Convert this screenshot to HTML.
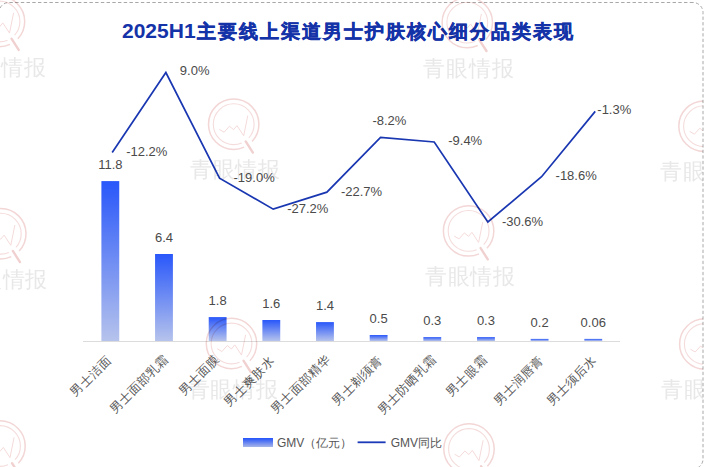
<!DOCTYPE html>
<html><head><meta charset="utf-8">
<style>
html,body{margin:0;padding:0;background:#fff;}
body{width:707px;height:467px;overflow:hidden;font-family:"Liberation Sans",sans-serif;}
svg{display:block;}
text{font-family:"Liberation Sans",sans-serif;}
</style></head><body>
<svg width="707" height="467" viewBox="0 0 707 467">
<defs>
<linearGradient id="bg" x1="0" y1="0" x2="0" y2="1">
<stop offset="0" stop-color="#2957fa"/>
<stop offset="1" stop-color="#b6c3ec"/>
</linearGradient>
<linearGradient id="lg" x1="0" y1="0" x2="0" y2="1">
<stop offset="0" stop-color="#2252fa"/>
<stop offset="1" stop-color="#a8b6e8"/>
</linearGradient>
<clipPath id="clipbox"><rect x="-5" y="-5" width="708" height="480"/></clipPath>
<g id="wm">
<circle cx="0" cy="0" r="25.2" fill="none" stroke="#f3d6d6" stroke-width="1.5" stroke-dasharray="18.9 9.7 200"/>
<circle cx="0" cy="0" r="20.4" fill="none" stroke="#f5dcdc" stroke-width="1.1" stroke-dasharray="14.95 8.65 200"/>
<polyline points="-14.4,5.2 -9.6,8 -4.2,2 -0.1,5.5 3.3,1.4 10,11.6 14.1,-8.7" fill="none" stroke="#f5dada" stroke-width="1"/>
<line x1="12" y1="17.2" x2="19.2" y2="28.4" stroke="#f1d0d0" stroke-width="2.4" stroke-linecap="round"/>
<text x="-44" y="53" font-size="22" letter-spacing="0.9" fill="#e8e8e8">青眼情报</text>
</g>
</defs>

<path d="M -1 480 L -1 12.5 A 10 10 0 0 1 9 2.5 L 693.6 2.5" fill="none" stroke="#a8a8a8" stroke-width="1" stroke-dasharray="3.4 2.317" stroke-dashoffset="2.437"/>
<path d="M 693 2.5 A 10 10 0 0 1 703 12.5 L 703 459 A 10 10 0 0 1 693 469" fill="none" stroke="#a8a8a8" stroke-width="1" stroke-dasharray="3.3 2.251" stroke-dashoffset="2.546"/>
<text y="38.4" font-weight="bold" fill="#1533a8"><tspan x="122" font-size="21">2025H1</tspan><tspan x="197" y="38" font-size="18.5" letter-spacing="2" stroke="#1533a8" stroke-width="0.5">主要线上渠道男士护肤核心细分品类表现</tspan></text>
<rect x="83" y="341" width="537" height="1" fill="#dcdcdc"/>
<rect x="101.40" y="181.1" width="17.85" height="159.90" fill="url(#bg)"/>
<text x="110.33" y="169.10" text-anchor="middle" font-size="13" fill="#4a4a4a">11.8</text>
<rect x="155.06" y="254" width="17.85" height="87.00" fill="url(#bg)"/>
<text x="163.99" y="242.00" text-anchor="middle" font-size="13" fill="#4a4a4a">6.4</text>
<rect x="208.72" y="317.1" width="17.85" height="23.90" fill="url(#bg)"/>
<text x="217.65" y="305.10" text-anchor="middle" font-size="13" fill="#4a4a4a">1.8</text>
<rect x="262.38" y="320" width="17.85" height="21.00" fill="url(#bg)"/>
<text x="271.31" y="308.00" text-anchor="middle" font-size="13" fill="#4a4a4a">1.6</text>
<rect x="316.04" y="322.1" width="17.85" height="18.90" fill="url(#bg)"/>
<text x="324.96" y="310.10" text-anchor="middle" font-size="13" fill="#4a4a4a">1.4</text>
<rect x="369.70" y="335" width="17.85" height="6.00" fill="url(#bg)"/>
<text x="378.62" y="323.00" text-anchor="middle" font-size="13" fill="#4a4a4a">0.5</text>
<rect x="423.36" y="337.1" width="17.85" height="3.90" fill="url(#bg)"/>
<text x="432.29" y="325.10" text-anchor="middle" font-size="13" fill="#4a4a4a">0.3</text>
<rect x="477.02" y="337.1" width="17.85" height="3.90" fill="url(#bg)"/>
<text x="485.94" y="325.10" text-anchor="middle" font-size="13" fill="#4a4a4a">0.3</text>
<rect x="530.68" y="338.9" width="17.85" height="2.10" fill="url(#bg)"/>
<text x="539.60" y="326.90" text-anchor="middle" font-size="13" fill="#4a4a4a">0.2</text>
<rect x="584.34" y="338.9" width="17.85" height="2.10" fill="url(#bg)"/>
<text x="593.26" y="326.90" text-anchor="middle" font-size="13" fill="#4a4a4a">0.06</text>
<polyline points="112.20,152.53 165.87,72.50 219.54,178.20 273.21,209.16 326.88,192.17 380.55,137.43 434.22,141.96 487.89,221.99 541.56,176.69 595.23,111.38" fill="none" stroke="#1a37b2" stroke-width="1.7" stroke-linejoin="miter"/>
<text x="126.20" y="156.23" font-size="13" fill="#4a4a4a">-12.2%</text>
<text x="179.87" y="75.10" font-size="13" fill="#4a4a4a">9.0%</text>
<text x="233.54" y="181.90" font-size="13" fill="#4a4a4a">-19.0%</text>
<text x="287.21" y="212.85" font-size="13" fill="#4a4a4a">-27.2%</text>
<text x="340.88" y="195.87" font-size="13" fill="#4a4a4a">-22.7%</text>
<text x="372.4" y="125.2" font-size="13" fill="#4a4a4a">-8.2%</text>
<text x="448.22" y="145.26" font-size="13" fill="#4a4a4a">-9.4%</text>
<text x="501.89" y="225.69" font-size="13" fill="#4a4a4a">-30.6%</text>
<text x="555.56" y="180.39" font-size="13" fill="#4a4a4a">-18.6%</text>
<text x="597.3" y="113.9" font-size="13" fill="#4a4a4a">-1.3%</text>
<text x="111.83" y="361.00" text-anchor="end" font-size="12.25" letter-spacing="0.85" fill="#555" transform="rotate(-45 111.83 361.00)">男士洁面</text>
<text x="169.59" y="359.80" text-anchor="end" font-size="12.25" letter-spacing="0.85" fill="#555" transform="rotate(-45 169.59 359.80)">男士面部乳霜</text>
<text x="220.05" y="359.90" text-anchor="end" font-size="12.25" letter-spacing="0.85" fill="#555" transform="rotate(-45 220.05 359.90)">男士面膜</text>
<text x="274.91" y="361.40" text-anchor="end" font-size="12.25" letter-spacing="0.85" fill="#555" transform="rotate(-45 274.91 361.40)">男士爽肤水</text>
<text x="330.92" y="359.90" text-anchor="end" font-size="12.25" letter-spacing="0.85" fill="#555" transform="rotate(-45 330.92 359.90)">男士面部精华</text>
<text x="382.92" y="360.70" text-anchor="end" font-size="12.25" letter-spacing="0.85" fill="#555" transform="rotate(-45 382.92 360.70)">男士剃须膏</text>
<text x="437.59" y="360.30" text-anchor="end" font-size="12.25" letter-spacing="0.85" fill="#555" transform="rotate(-45 437.59 360.30)">男士防晒乳霜</text>
<text x="487.75" y="360.40" text-anchor="end" font-size="12.25" letter-spacing="0.85" fill="#555" transform="rotate(-45 487.75 360.40)">男士眼霜</text>
<text x="544.40" y="361.00" text-anchor="end" font-size="12.25" letter-spacing="0.85" fill="#555" transform="rotate(-45 544.40 361.00)">男士润唇膏</text>
<text x="597.36" y="360.70" text-anchor="end" font-size="12.25" letter-spacing="0.85" fill="#555" transform="rotate(-45 597.36 360.70)">男士须后水</text>
<rect x="243" y="438" width="30" height="9" fill="url(#lg)"/>
<text x="277" y="446.6" font-size="12" fill="#555">GMV（亿元）</text>
<rect x="357.6" y="441.4" width="28" height="1.8" fill="#1a3ab8"/>
<text x="390.7" y="446.6" font-size="12" fill="#555">GMV同比</text>
<g clip-path="url(#clipbox)" style="mix-blend-mode:multiply">
<use href="#wm" x="-0.5" y="21.5"/>
<use href="#wm" x="0.8" y="233.7"/>
<use href="#wm" x="0" y="446"/>
<use href="#wm" x="233.7" y="124.2"/>
<use href="#wm" x="231.5" y="343.5"/>
<use href="#wm" x="467.3" y="22.6"/>
<use href="#wm" x="468.6" y="230.9"/>
<use href="#wm" x="469" y="449"/>
<use href="#wm" x="704" y="126.2"/>
<use href="#wm" x="704.8" y="344"/>
</g>
</svg></body></html>
